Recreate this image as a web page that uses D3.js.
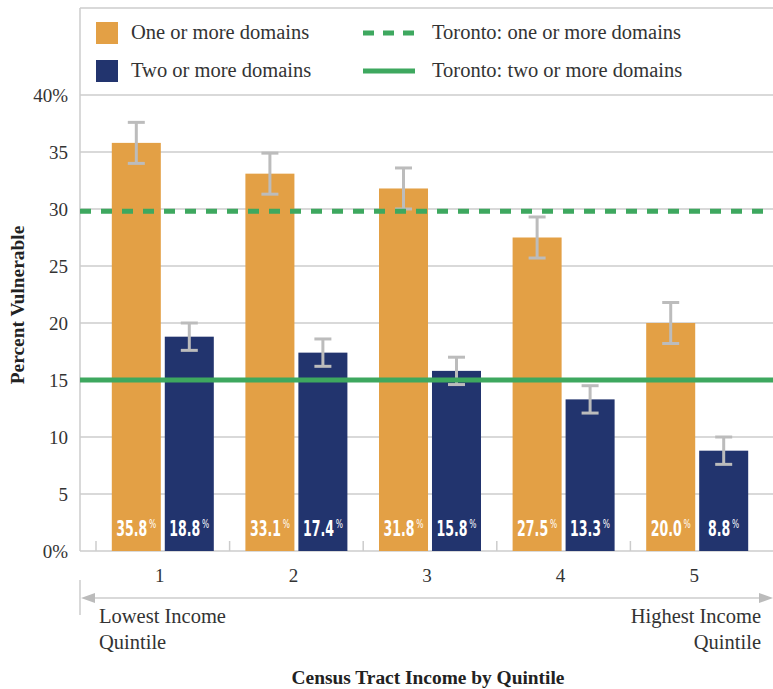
<!DOCTYPE html>
<html>
<head>
<meta charset="utf-8">
<script src="https://cdn.jsdelivr.net/npm/d3@7"></script>
<style>
  body { margin: 0; background: #fff; }
  svg text { font-family: "Liberation Serif", "DejaVu Serif", serif; }
</style>
</head>
<body>
<svg id="chart" width="773" height="689"></svg>
<script>
// ---- data ----
const quintiles = ['1', '2', '3', '4', '5'];
const oneOrMore = [35.8, 33.1, 31.8, 27.5, 20.0];
const oneOrMoreErr = [1.8, 1.8, 1.8, 1.8, 1.8];
const twoOrMore = [18.8, 17.4, 15.8, 13.3, 8.8];
const twoOrMoreErr = [1.2, 1.2, 1.2, 1.2, 1.2];
const torontoOne = 29.8;
const torontoTwo = 15.0;
const yTicks = [0, 5, 10, 15, 20, 25, 30, 35, 40];

const colors = { one: '#e3a045', two: '#22346e', toronto: '#3ea85f', grid: '#cccccc', err: '#bcbcbc' };

const svg = d3.select('#chart');
const plot = { left: 80, right: 773, top: 95, bottom: 551 };

let yScale = d3.scaleLinear().domain([0, 40]).range([plot.bottom, plot.top]);
let xScale = d3.scaleBand().domain(quintiles).range([96, 764]).padding(0);
let xSub = d3.scaleBand().domain(['one', 'two']).range([15.8, xScale.bandwidth() - 15.8]).paddingInner(0.075);

let rows = quintiles.map(function(q, i) {
    return [
        { q: q, key: 'one', value: oneOrMore[i], err: oneOrMoreErr[i] },
        { q: q, key: 'two', value: twoOrMore[i], err: twoOrMoreErr[i] }
    ];
});

// legend frame + left axis line
svg.append('line').attr('x1', plot.left).attr('x2', plot.right).attr('y1', 8).attr('y2', 8)
    .attr('stroke', colors.grid).attr('stroke-width', 1.5);
svg.append('line').attr('x1', plot.left).attr('x2', plot.left).attr('y1', 8).attr('y2', plot.bottom)
    .attr('stroke', colors.grid).attr('stroke-width', 1.5);

// gridlines
svg.append('g').selectAll('line').data(yTicks).enter().append('line')
    .attr('x1', plot.left).attr('x2', plot.right)
    .attr('y1', function(d) { return yScale(d); })
    .attr('y2', function(d) { return yScale(d); })
    .attr('stroke', colors.grid).attr('stroke-width', 1.5);

// y tick labels
svg.append('g').selectAll('text').data(yTicks).enter().append('text')
    .attr('x', 68).attr('y', function(d) { return yScale(d); })
    .attr('dy', '0.35em')
    .attr('text-anchor', 'end')
    .attr('font-size', 19).attr('fill', '#333')
    .text(function(d) { return (d === 0 || d === 40) ? d + '%' : d; });

// small ticks at the left edge of each band
svg.append('g').selectAll('line').data(quintiles).enter().append('line')
    .attr('x1', function(d) { return xScale(d); }).attr('x2', function(d) { return xScale(d); })
    .attr('y1', plot.bottom - 10).attr('y2', plot.bottom)
    .attr('stroke', colors.grid).attr('stroke-width', 1.5);

// bars
let groups = svg.append('g').selectAll('g').data(rows).enter().append('g')
    .attr('transform', function(d) { return 'translate(' + xScale(d[0].q) + ',0)'; });

groups.selectAll('rect').data(function(d) { return d; }).enter().append('rect')
    .attr('x', function(d) { return xSub(d.key); })
    .attr('y', function(d) { return yScale(d.value); })
    .attr('width', xSub.bandwidth())
    .attr('height', function(d) { return plot.bottom - yScale(d.value); })
    .attr('fill', function(d) { return colors[d.key]; });

// error bars
let errG = groups.selectAll('g.err').data(function(d) { return d; }).enter().append('g').classed('err', true)
    .attr('transform', function(d) { return 'translate(' + (xSub(d.key) + xSub.bandwidth() / 2) + ',0)'; });
errG.append('line')
    .attr('y1', function(d) { return yScale(d.value + d.err); })
    .attr('y2', function(d) { return yScale(d.value - d.err); })
    .attr('stroke', colors.err).attr('stroke-width', 3);
errG.append('line').attr('x1', -8.5).attr('x2', 8.5)
    .attr('y1', function(d) { return yScale(d.value + d.err); })
    .attr('y2', function(d) { return yScale(d.value + d.err); })
    .attr('stroke', colors.err).attr('stroke-width', 3);
errG.append('line').attr('x1', -8.5).attr('x2', 8.5)
    .attr('y1', function(d) { return yScale(d.value - d.err); })
    .attr('y2', function(d) { return yScale(d.value - d.err); })
    .attr('stroke', colors.err).attr('stroke-width', 3);

// value labels inside bars: one text, squeezed horizontally for a condensed look
let lab = groups.selectAll('text.val').data(function(d) { return d; }).enter().append('text').classed('val', true)
    .attr('transform', function(d) { return 'translate(' + (xSub(d.key) + xSub.bandwidth() / 2) + ',536) scale(0.585,1)'; })
    .attr('text-anchor', 'middle')
    .attr('fill', '#fff')
    .style('font-family', '"DejaVu Sans", sans-serif');
lab.append('tspan')
    .style('font-weight', 'bold')
    .attr('font-size', 21.5)
    .text(function(d) { return d.value.toFixed(1); });
lab.append('tspan')
    .attr('dx', 3)
    .attr('dy', -8)
    .attr('font-size', 13)
    .text('%');

// Toronto reference lines
svg.append('line').attr('x1', plot.left).attr('x2', plot.right)
    .attr('y1', yScale(torontoOne)).attr('y2', yScale(torontoOne))
    .attr('stroke', colors.toronto).attr('stroke-width', 5)
    .attr('stroke-dasharray', '11,10');
svg.append('line').attr('x1', plot.left).attr('x2', plot.right)
    .attr('y1', yScale(torontoTwo)).attr('y2', yScale(torontoTwo))
    .attr('stroke', colors.toronto).attr('stroke-width', 5);

// x tick labels
svg.append('g').selectAll('text').data(quintiles).enter().append('text')
    .attr('x', function(d) { return xScale(d) + xScale.bandwidth() / 2 - 3; })
    .attr('y', 582)
    .attr('text-anchor', 'middle')
    .attr('font-size', 19).attr('fill', '#333')
    .text(function(d) { return d; });

// double arrow
svg.append('line').attr('x1', 80).attr('x2', 80).attr('y1', 580).attr('y2', 615)
    .attr('stroke', colors.grid).attr('stroke-width', 1.5);
svg.append('line').attr('x1', 88).attr('x2', 766).attr('y1', 598).attr('y2', 598)
    .attr('stroke', colors.grid).attr('stroke-width', 1.5);
svg.append('path').attr('d', 'M81,598 L95,593 L95,603 Z').attr('fill', '#bbb');
svg.append('path').attr('d', 'M773,598 L759,593 L759,603 Z').attr('fill', '#bbb');

let ends = svg.append('g').attr('font-size', 20.5).attr('fill', '#333');
ends.append('text').attr('x', 99).attr('y', 623).text('Lowest Income');
ends.append('text').attr('x', 99).attr('y', 649).text('Quintile');
ends.append('text').attr('x', 761).attr('y', 623).attr('text-anchor', 'end').text('Highest Income');
ends.append('text').attr('x', 761).attr('y', 649).attr('text-anchor', 'end').text('Quintile');

// axis titles
svg.append('text').attr('x', 428).attr('y', 684).attr('text-anchor', 'middle')
    .attr('font-size', 19.4).attr('font-weight', 'bold').attr('fill', '#222')
    .text('Census Tract Income by Quintile');
svg.append('text').attr('transform', 'translate(24,305) rotate(-90)').attr('text-anchor', 'middle')
    .attr('font-size', 19.4).attr('font-weight', 'bold').attr('fill', '#222')
    .text('Percent Vulnerable');

// legend
let legend = svg.append('g').attr('font-size', 20.5).attr('fill', '#333');
legend.append('rect').attr('x', 96).attr('y', 22).attr('width', 22).attr('height', 22).attr('fill', colors.one);
legend.append('rect').attr('x', 96).attr('y', 60).attr('width', 22).attr('height', 22).attr('fill', colors.two);
legend.append('text').attr('x', 131).attr('y', 39).text('One or more domains');
legend.append('text').attr('x', 131).attr('y', 77).text('Two or more domains');
legend.append('line').attr('x1', 363).attr('x2', 415).attr('y1', 33).attr('y2', 33)
    .attr('stroke', colors.toronto).attr('stroke-width', 5).attr('stroke-dasharray', '11,9');
legend.append('line').attr('x1', 363).attr('x2', 415).attr('y1', 71).attr('y2', 71)
    .attr('stroke', colors.toronto).attr('stroke-width', 5);
legend.append('text').attr('x', 432).attr('y', 39).text('Toronto: one or more domains');
legend.append('text').attr('x', 432).attr('y', 77).text('Toronto: two or more domains');
</script>
</body>
</html>
